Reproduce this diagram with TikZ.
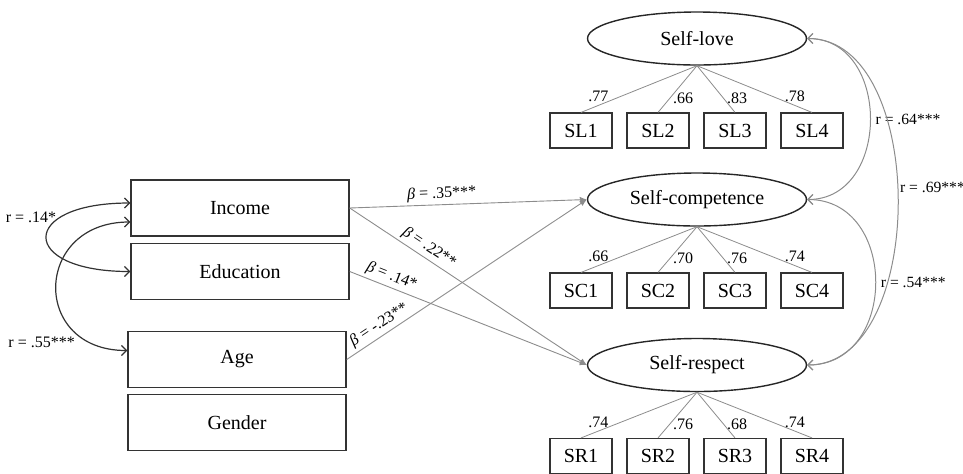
\documentclass[tikz,border=0pt]{standalone}
\usepackage{fontspec}
\setmainfont{Liberation Serif}
\usetikzlibrary{arrows.meta,shapes.geometric}

\begin{document}
\begin{tikzpicture}[x=0.5pt,y=-0.5pt,
  var/.style={rectangle,draw=black!80,line width=0.7pt,inner sep=0pt,
    minimum width=109pt,minimum height=28pt,font=\fontsize{10}{12}\selectfont},
  lat/.style={ellipse,draw=black!85,line width=0.7pt,inner sep=0pt,
    minimum width=109.5pt,minimum height=26.5pt,font=\fontsize{10}{12}\selectfont},
  ind/.style={rectangle,draw=black!80,line width=0.6pt,inner sep=0pt,
    minimum width=31pt,minimum height=17.5pt,font=\fontsize{10}{12}\selectfont},
  load/.style={draw=gray!90,line width=0.4pt},
  reg/.style={draw=gray!90,line width=0.45pt,-{Latex[length=3.5pt,width=3pt]}},
  cov/.style={draw=black!80,line width=0.6pt,
    {Straight Barb[length=2.5pt,width=5pt]}-{Straight Barb[length=2.5pt,width=5pt]}},
  rcov/.style={draw=gray!90,line width=0.5pt,
    {Straight Barb[length=2.5pt,width=5pt]}-{Straight Barb[length=2.5pt,width=5pt]}},
  coef/.style={font=\fontsize{8}{9}\selectfont,inner sep=1.5pt},
  rlbl/.style={font=\fontsize{7.8}{9}\selectfont,inner sep=1pt}
]
\useasboundingbox (0,0) rectangle (963,473);

% Predictors
\node[var] (inc) at (240,208) {Income};
\node[var] (edu) at (240,271.5) {Education};
\node[var] (age) at (237,359.5) {Age};
\node[var] (gen) at (237,422.5) {Gender};

% Latent factors
\node[lat] (love) at (697,38.5) {Self-love};
\node[lat] (comp) at (697,199.5) {Self-competence};
\node[lat] (resp) at (697,365) {Self-respect};

% Indicators
\node[ind] (sl1) at (581,130.5) {SL1};
\node[ind] (sl2) at (658,130.5) {SL2};
\node[ind] (sl3) at (735,130.5) {SL3};
\node[ind] (sl4) at (812,130.5) {SL4};
\node[ind] (sc1) at (581,290.5) {SC1};
\node[ind] (sc2) at (658,290.5) {SC2};
\node[ind] (sc3) at (735,290.5) {SC3};
\node[ind] (sc4) at (812,290.5) {SC4};
\node[ind] (sr1) at (581,456) {SR1};
\node[ind] (sr2) at (658,456) {SR2};
\node[ind] (sr3) at (735,456) {SR3};
\node[ind] (sr4) at (812,456) {SR4};

% Loadings
\draw[load] (love.south) -- node[coef,pos=.85,above]{.77} (sl1.north);
\draw[load] (love.south) -- node[coef,pos=.7,right]{.66} (sl2.north);
\draw[load] (love.south) -- node[coef,pos=.7,right]{.83} (sl3.north);
\draw[load] (love.south) -- node[coef,pos=.85,above]{.78} (sl4.north);
\draw[load] (comp.south) -- node[coef,pos=.85,above]{.66} (sc1.north);
\draw[load] (comp.south) -- node[coef,pos=.7,right]{.70} (sc2.north);
\draw[load] (comp.south) -- node[coef,pos=.7,right]{.76} (sc3.north);
\draw[load] (comp.south) -- node[coef,pos=.85,above]{.74} (sc4.north);
\draw[load] (resp.south) -- node[coef,pos=.85,above]{.74} (sr1.north);
\draw[load] (resp.south) -- node[coef,pos=.7,right]{.76} (sr2.north);
\draw[load] (resp.south) -- node[coef,pos=.7,right]{.68} (sr3.north);
\draw[load] (resp.south) -- node[coef,pos=.85,above]{.74} (sr4.north);

% Paths
\draw[reg] (inc.east) -- node[coef,pos=.39,above,sloped]{\textit{β} = .35***} (comp.west);
\draw[reg] (inc.east) -- node[coef,pos=.31,above,sloped]{\textit{β} = .22**} (resp.west);
\draw[reg] (edu.east) -- node[coef,pos=.16,above,sloped]{\textit{β} = .14*} (resp.west);
\draw[reg] (age.east) -- node[coef,pos=.16,above,sloped]{\textit{β} = -.23**} (comp.west);

% Correlations
\draw[cov] ([yshift=2.5pt]inc.west) .. controls +(-112,0) and +(-112,0) ..
  node[coef,pos=.3,left]{r = .14*} (edu.west);
\draw[cov] ([yshift=-7pt]inc.west) .. controls +(-97,0) and +(-97,0) ..
  node[coef,pos=.85,left=6pt]{r = .55***} ([yshift=4.5pt]age.west);
\draw[rcov] (love.east) .. controls +(84,0) and +(84,0) ..
  node[rlbl,pos=.5,right=1.5pt]{r = .64***} (comp.east);
\draw[rcov] (love.east) .. controls +(121,0) and +(121,0) ..
  node[rlbl,pos=.47,right]{r = .69***} (resp.east);
\draw[rcov] (comp.east) .. controls +(91,0) and +(91,0) ..
  node[rlbl,pos=.5,right=1.5pt]{r = .54***} (resp.east);

\end{tikzpicture}
\end{document}
